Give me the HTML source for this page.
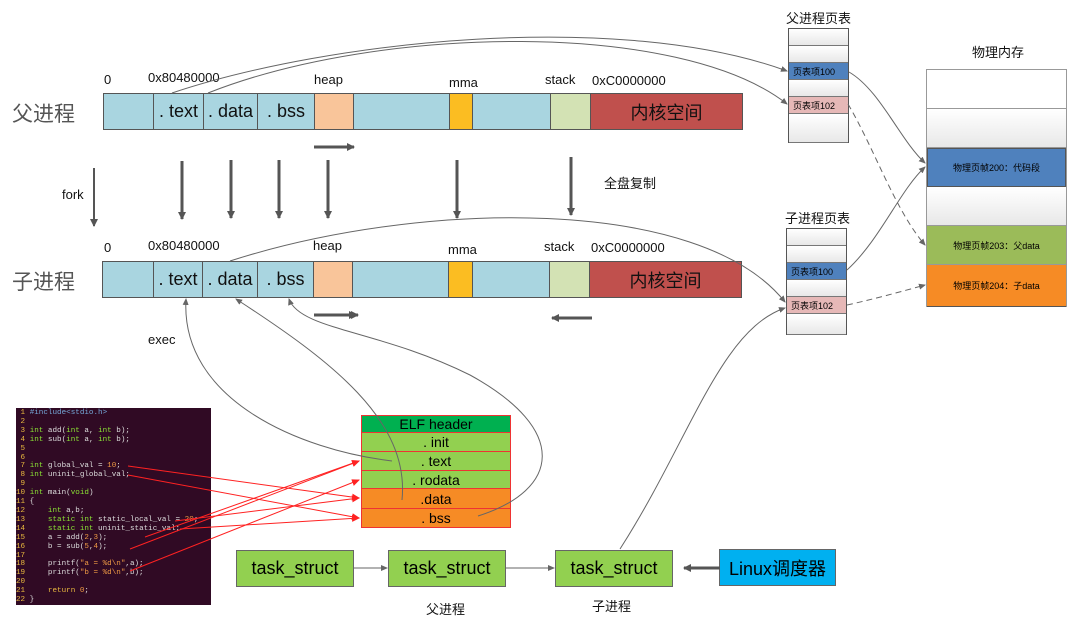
<!DOCTYPE html>
<html><head><meta charset="utf-8"><style>
body{margin:0;width:1091px;height:623px;background:#fff;position:relative;overflow:hidden;font-family:"Liberation Sans","Noto Sans CJK SC",sans-serif;}
.a{position:absolute;box-sizing:border-box;}
.seg{position:absolute;box-sizing:border-box;border:1px solid #555;border-right:none;display:flex;align-items:center;justify-content:center;font-size:18px;color:#111;}
.lbl{position:absolute;font-size:13px;color:#111;white-space:nowrap;}
.pt div{height:17px;border-bottom:1px solid #777;background:linear-gradient(#fff,#e8e8e8);font-size:9px;display:flex;align-items:center;padding-left:4px;box-sizing:border-box;}
.elf div{box-sizing:border-box;border-bottom:1px solid #e33;display:flex;align-items:center;justify-content:center;font-size:14px;}
.ts{position:absolute;box-sizing:border-box;background:#92d050;border:1px solid #666;font-size:18px;display:flex;align-items:center;justify-content:center;top:550px;height:37px;}
.code{position:absolute;left:16px;top:408px;width:195px;height:196px;background:#300a24;font-family:"Liberation Mono",monospace;font-size:7.6px;line-height:8.9px;color:#ddd;padding-top:1px;white-space:pre;overflow:hidden;}
.code .n{color:#e9b93f;}
.code .k{color:#8ae234;}
.pm div{box-sizing:border-box;border-bottom:1px solid #999;font-size:9px;display:flex;align-items:center;justify-content:center;}
</style></head><body>

<div class="lbl" style="left:12px;top:98px;font-size:21px;color:#555">父进程</div>
<div class="lbl" style="left:104px;top:72px">0</div>
<div class="lbl" style="left:148px;top:70px">0x80480000</div>
<div class="lbl" style="left:314px;top:72px">heap</div>
<div class="lbl" style="left:449px;top:75px">mma</div>
<div class="lbl" style="left:545px;top:72px">stack</div>
<div class="lbl" style="left:592px;top:73px">0xC0000000</div>
<div class="seg" style="left:103px;top:93px;width:50px;height:37px;background:#a9d5e0"></div>
<div class="seg" style="left:153px;top:93px;width:50px;height:37px;background:#a9d5e0">. text</div>
<div class="seg" style="left:203px;top:93px;width:54px;height:37px;background:#a9d5e0">. data</div>
<div class="seg" style="left:257px;top:93px;width:57px;height:37px;background:#a9d5e0">. bss</div>
<div class="seg" style="left:314px;top:93px;width:39px;height:37px;background:#f9c59a"></div>
<div class="seg" style="left:353px;top:93px;width:96px;height:37px;background:#a9d5e0"></div>
<div class="seg" style="left:449px;top:93px;width:23px;height:37px;background:#fbbd22"></div>
<div class="seg" style="left:472px;top:93px;width:78px;height:37px;background:#a9d5e0"></div>
<div class="seg" style="left:550px;top:93px;width:40px;height:37px;background:#d3e2b4"></div>
<div class="seg" style="left:590px;top:93px;width:153px;height:37px;background:#c0504d;border-right:1px solid #555">内核空间</div>

<div class="lbl" style="left:12px;top:266px;font-size:21px;color:#555">子进程</div>
<div class="lbl" style="left:104px;top:240px">0</div>
<div class="lbl" style="left:148px;top:238px">0x80480000</div>
<div class="lbl" style="left:313px;top:238px">heap</div>
<div class="lbl" style="left:448px;top:242px">mma</div>
<div class="lbl" style="left:544px;top:239px">stack</div>
<div class="lbl" style="left:591px;top:240px">0xC0000000</div>
<div class="seg" style="left:102px;top:261px;width:51px;height:37px;background:#a9d5e0"></div>
<div class="seg" style="left:153px;top:261px;width:49px;height:37px;background:#a9d5e0">. text</div>
<div class="seg" style="left:202px;top:261px;width:55px;height:37px;background:#a9d5e0">. data</div>
<div class="seg" style="left:257px;top:261px;width:56px;height:37px;background:#a9d5e0">. bss</div>
<div class="seg" style="left:313px;top:261px;width:39px;height:37px;background:#f9c59a"></div>
<div class="seg" style="left:352px;top:261px;width:96px;height:37px;background:#a9d5e0"></div>
<div class="seg" style="left:448px;top:261px;width:24px;height:37px;background:#fbbd22"></div>
<div class="seg" style="left:472px;top:261px;width:77px;height:37px;background:#a9d5e0"></div>
<div class="seg" style="left:549px;top:261px;width:40px;height:37px;background:#d3e2b4"></div>
<div class="seg" style="left:589px;top:261px;width:153px;height:37px;background:#c0504d;border-right:1px solid #555">内核空间</div>

<div class="lbl" style="left:62px;top:187px">fork</div>
<div class="lbl" style="left:604px;top:173px">全盘复制</div>
<div class="lbl" style="left:148px;top:332px">exec</div>

<div class="lbl" style="left:786px;top:8px">父进程页表</div>
<div class="a pt" style="left:788px;top:28px;width:61px;border:1px solid #555;border-bottom:none">
<div></div><div></div><div style="background:#4f81bd">页表项100</div><div></div><div style="background:#e6b8b7">页表项102</div><div style="height:29px"></div>
</div>
<div class="lbl" style="left:785px;top:208px">子进程页表</div>
<div class="a pt" style="left:786px;top:228px;width:61px;border:1px solid #555;border-bottom:none">
<div></div><div></div><div style="background:#4f81bd">页表项100</div><div></div><div style="background:#e6b8b7">页表项102</div><div style="height:21px"></div>
</div>

<div class="lbl" style="left:972px;top:42px">物理内存</div>
<div class="a pm" style="left:926px;top:69px;width:141px;border:1px solid #999;border-bottom:none">
<div style="height:39px;background:#fff"></div>
<div style="height:39px;background:linear-gradient(#fff,#e8e8e8)"></div>
<div style="height:39px;background:#4f81bd;border:1px solid #555">物理页帧200：代码段</div>
<div style="height:39px;background:linear-gradient(#fff,#e8e8e8)"></div>
<div style="height:39px;background:#9bbb59">物理页帧203：父data</div>
<div style="height:42px;background:#f68b25;border-bottom:1px solid #555">物理页帧204：子data</div>
</div>

<div class="code"><span class="n"> 1</span> <span style="color:#75a7d8">#include&lt;stdio.h&gt;</span>
<span class="n"> 2</span>
<span class="n"> 3</span> <span class="k">int</span> add(<span class="k">int</span> a, <span class="k">int</span> b);
<span class="n"> 4</span> <span class="k">int</span> sub(<span class="k">int</span> a, <span class="k">int</span> b);
<span class="n"> 5</span>
<span class="n"> 6</span>
<span class="n"> 7</span> <span class="k">int</span> global_val = <span style="color:#e94">10</span>;
<span class="n"> 8</span> <span class="k">int</span> uninit_global_val;
<span class="n"> 9</span>
<span class="n">10</span> <span class="k">int</span> main(<span class="k">void</span>)
<span class="n">11</span> {
<span class="n">12</span>     <span class="k">int</span> a,b;
<span class="n">13</span>     <span class="k">static int</span> static_local_val = <span style="color:#e94">20</span>;
<span class="n">14</span>     <span class="k">static int</span> uninit_static_val;
<span class="n">15</span>     a = add(<span style="color:#e94">2</span>,<span style="color:#e94">3</span>);
<span class="n">16</span>     b = sub(<span style="color:#e94">5</span>,<span style="color:#e94">4</span>);
<span class="n">17</span>
<span class="n">18</span>     printf(<span style="color:#e94">"a = %d\n"</span>,a);
<span class="n">19</span>     printf(<span style="color:#e94">"b = %d\n"</span>,b);
<span class="n">20</span>
<span class="n">21</span>     <span style="color:#e9b93f">return</span> <span style="color:#e94">0</span>;
<span class="n">22</span> }</div>

<div class="a elf" style="left:361px;top:415px;width:150px;height:113px;border:1px solid #e33">
<div style="height:17px;background:#00b050">ELF header</div>
<div style="height:19px;background:#92d050">. init</div>
<div style="height:19px;background:#92d050">. text</div>
<div style="height:18px;background:#92d050">. rodata</div>
<div style="height:20px;background:#f68b25">.data</div>
<div style="height:18px;background:#f68b25;border-bottom:none">. bss</div>
</div>

<div class="ts" style="left:236px;width:118px">task_struct</div>
<div class="ts" style="left:388px;width:118px">task_struct</div>
<div class="ts" style="left:555px;width:118px">task_struct</div>
<div class="ts" style="left:719px;width:117px;top:549px;background:#00b0f0">Linux调度器</div>
<div class="lbl" style="left:426px;top:599px">父进程</div>
<div class="lbl" style="left:592px;top:596px">子进程</div>

<svg class="a" style="left:0;top:0" width="1091" height="623">
<defs>
<marker id="g" markerWidth="8" markerHeight="8" refX="7" refY="4" orient="auto" markerUnits="userSpaceOnUse"><path d="M0,0L8,4L0,8z" fill="#555"/></marker>
<marker id="gs" markerWidth="7" markerHeight="6" refX="6" refY="3" orient="auto" markerUnits="userSpaceOnUse"><path d="M0,0L7,3L0,6z" fill="#666"/></marker>
<marker id="r" markerWidth="8" markerHeight="7" refX="7" refY="3.5" orient="auto" markerUnits="userSpaceOnUse"><path d="M0,0L8,3.5L0,7z" fill="#f22"/></marker>
</defs>
<g stroke="#555" stroke-width="3" fill="none" marker-end="url(#g)">
<line x1="182" y1="161" x2="182" y2="219"/>
<line x1="231" y1="160" x2="231" y2="218"/>
<line x1="279" y1="160" x2="279" y2="218"/>
<line x1="328" y1="160" x2="328" y2="218"/>
<line x1="457" y1="160" x2="457" y2="218"/>
<line x1="571" y1="157" x2="571" y2="215"/>
<line x1="314" y1="147" x2="354" y2="147"/>
<line x1="314" y1="315" x2="356" y2="315"/>
<line x1="334" y1="315" x2="358" y2="315"/>
<line x1="592" y1="318" x2="552" y2="318"/>
<line x1="720" y1="568" x2="684" y2="568"/>
</g>
<line x1="94" y1="168" x2="94" y2="226" stroke="#555" stroke-width="2" marker-end="url(#g)"/>
<g stroke="#666" stroke-width="1" fill="none" marker-end="url(#gs)">
<path d="M172 93 C 330 40, 620 10, 787 71"/>
<path d="M208 93 C 380 25, 680 20, 787 104"/>
<path d="M230 261 C 420 200, 700 195, 785 302"/>
<path d="M620 549 C 690 440, 720 330, 785 308"/>
<path d="M849 72 C 880 90, 900 140, 925 163"/>
<path d="M848 104 C 875 150, 895 210, 925 245" stroke-dasharray="6,4"/>
<path d="M847 270 C 880 240, 900 190, 925 167"/>
<path d="M847 305 C 870 300, 900 292, 925 285" stroke-dasharray="6,4"/>
<path d="M392 461 C 300 450, 180 400, 186 299"/>
<path d="M402 500 C 410 420, 330 360, 236 299"/>
<path d="M478 516 C 560 490, 570 430, 470 375 C 380 330, 300 330, 289 299"/>
<path d="M354 568 L387 568"/>
<path d="M506 568 L554 568"/>
</g>
<g stroke="#f22" stroke-width="1" fill="none" marker-end="url(#r)">
<line x1="128" y1="466" x2="359" y2="498"/>
<line x1="128" y1="475" x2="359" y2="518"/>
<line x1="145" y1="537" x2="359" y2="461"/>
<line x1="130" y1="549" x2="359" y2="461"/>
<line x1="175" y1="521" x2="359" y2="498"/>
<line x1="180" y1="529" x2="359" y2="518"/>
<line x1="130" y1="571" x2="359" y2="480"/>
</g>
</svg>
</body></html>
